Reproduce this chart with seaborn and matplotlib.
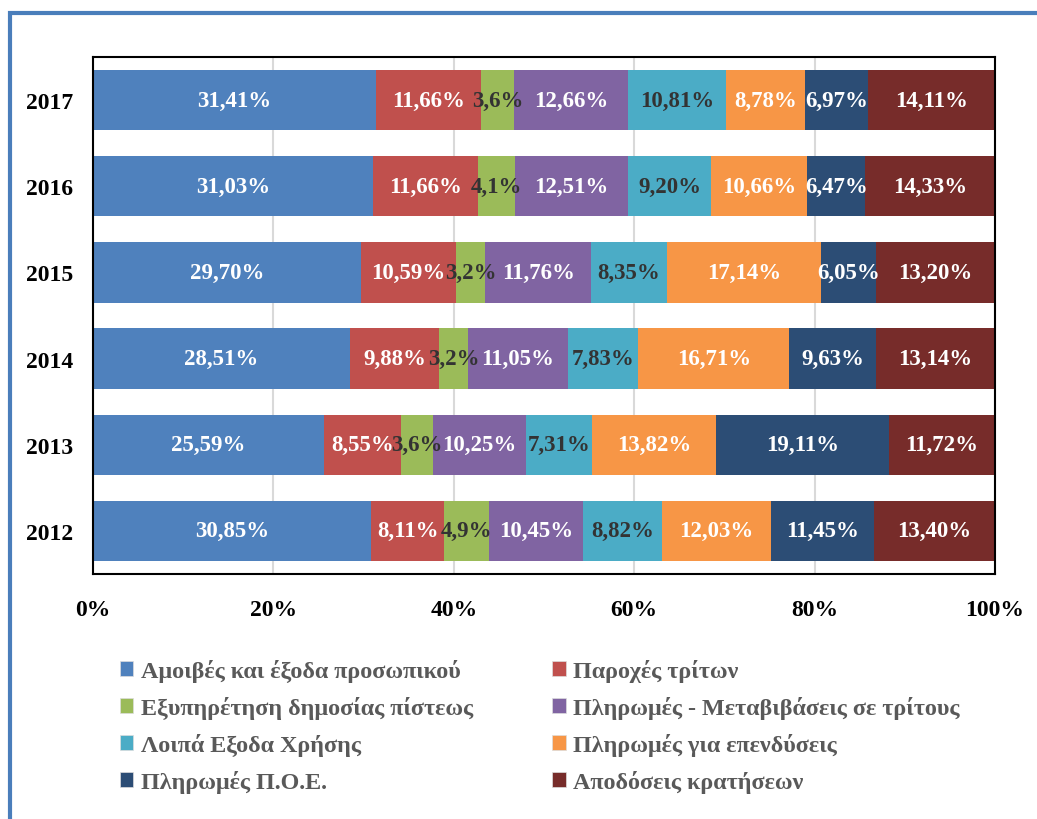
import matplotlib
matplotlib.use("Agg")
import matplotlib.pyplot as plt
import matplotlib.patches as mpatches
import seaborn as sns
import pandas as pd
import numpy as np

years = ["2017", "2016", "2015", "2014", "2013", "2012"]
categories = [
    "Αμοιβές και έξοδα προσωπικού",
    "Παροχές τρίτων",
    "Εξυπηρέτηση δημοσίας πίστεως",
    "Πληρωμές - Μεταβιβάσεις σε τρίτους",
    "Λοιπά Εξοδα Χρήσης",
    "Πληρωμές για επενδύσεις",
    "Πληρωμές Π.Ο.Ε.",
    "Αποδόσεις κρατήσεων",
]
amoives = [31.41, 31.03, 29.70, 28.51, 25.59, 30.85]
paroxes = [11.66, 11.66, 10.59, 9.88, 8.55, 8.11]
exypiretisi = [3.6, 4.1, 3.2, 3.2, 3.6, 4.9]
pliromes_metav = [12.66, 12.51, 11.76, 11.05, 10.25, 10.45]
loipa = [10.81, 9.20, 8.35, 7.83, 7.31, 8.82]
ependyseis = [8.78, 10.66, 17.14, 16.71, 13.82, 12.03]
poe = [6.97, 6.47, 6.05, 9.63, 19.11, 11.45]
apodoseis = [14.11, 14.33, 13.20, 13.14, 11.72, 13.40]
label_texts = [
    ["31,41%", "31,03%", "29,70%", "28,51%", "25,59%", "30,85%"],
    ["11,66%", "11,66%", "10,59%", "9,88%", "8,55%", "8,11%"],
    ["3,6%", "4,1%", "3,2%", "3,2%", "3,6%", "4,9%"],
    ["12,66%", "12,51%", "11,76%", "11,05%", "10,25%", "10,45%"],
    ["10,81%", "9,20%", "8,35%", "7,83%", "7,31%", "8,82%"],
    ["8,78%", "10,66%", "17,14%", "16,71%", "13,82%", "12,03%"],
    ["6,97%", "6,47%", "6,05%", "9,63%", "19,11%", "11,45%"],
    ["14,11%", "14,33%", "13,20%", "13,14%", "11,72%", "13,40%"],
]
xticks = [0, 20, 40, 60, 80, 100]
xtick_labels = ["0%", "20%", "40%", "60%", "80%", "100%"]

series = [amoives, paroxes, exypiretisi, pliromes_metav, loipa, ependyseis, poe, apodoseis]
colors = ["#4F81BD", "#C0504D", "#9BBB59", "#8064A2", "#4BACC6", "#F79646", "#2C4D75", "#772C2A"]
text_colors = ["white", "white", "#333333", "white", "#333333", "white", "white", "white"]

sns.set_style("white")
plt.rcParams["font.family"] = ["Liberation Serif", "DejaVu Serif"]
plt.rcParams["font.weight"] = "bold"

fig = plt.figure(figsize=(10.37, 8.2), dpi=100)
ax = fig.add_axes([93/1037, 1 - 575/820, (995-93)/1037, (575-58)/820])

vals = np.array(series)
cum = np.cumsum(vals, axis=0)

df = pd.DataFrame({"year": years})
for i in range(len(categories) - 1, -1, -1):
    df["cum"] = cum[i]
    sns.barplot(data=df, x="cum", y="year", order=years, color=colors[i],
                saturation=1, width=0.7, linewidth=0, ax=ax, orient="h")

for i in range(len(categories)):
    for j, yr in enumerate(years):
        xc = cum[i][j] - vals[i][j] / 2
        ax.text(xc, j, label_texts[i][j], ha="center", va="center",
                color=text_colors[i], fontsize=16.5, fontweight="bold")

ax.set_xlim(0, 100)
ax.set_ylim(5.5, -0.5)
ax.set_xticks(xticks)
ax.set_xticklabels(xtick_labels)
ax.set_xlabel("")
ax.set_ylabel("")
ax.xaxis.grid(True, color="#D9D9D9", linewidth=1.5)
ax.set_axisbelow(True)
ax.tick_params(axis="x", length=0, pad=18, labelsize=17)
ax.tick_params(axis="y", length=0, pad=14, labelsize=17)
for lab in ax.get_xticklabels() + ax.get_yticklabels():
    lab.set_fontweight("bold")
    lab.set_color("black")
for sp in ax.spines.values():
    sp.set_visible(True)
    sp.set_color("black")
    sp.set_linewidth(1.5)

handles = [mpatches.Patch(facecolor=c, edgecolor="#DDDDDD", linewidth=0.5) for c in colors]
order = [0, 2, 4, 6, 1, 3, 5, 7]
leg = fig.legend([handles[k] for k in order], [categories[k] for k in order],
                 ncol=2, loc="upper left", bbox_to_anchor=(120/1037, 1 - 660/820),
                 frameon=False, handlelength=0.55, handleheight=0.55,
                 handletextpad=0.3, columnspacing=3.3, labelspacing=0.58,
                 borderpad=0, borderaxespad=0,
                 prop={"family": ["Liberation Serif"], "weight": "bold", "size": 17.4})
for t in leg.get_texts():
    t.set_color("#595959")

frame = mpatches.Rectangle((10/1037, -0.2), 1.2, 1 - 14/820 + 0.2, transform=fig.transFigure,
                           fill=False, edgecolor="#4A7EBB", linewidth=3)
fig.patches.append(frame)

fig.savefig("out.png", dpi=100)
